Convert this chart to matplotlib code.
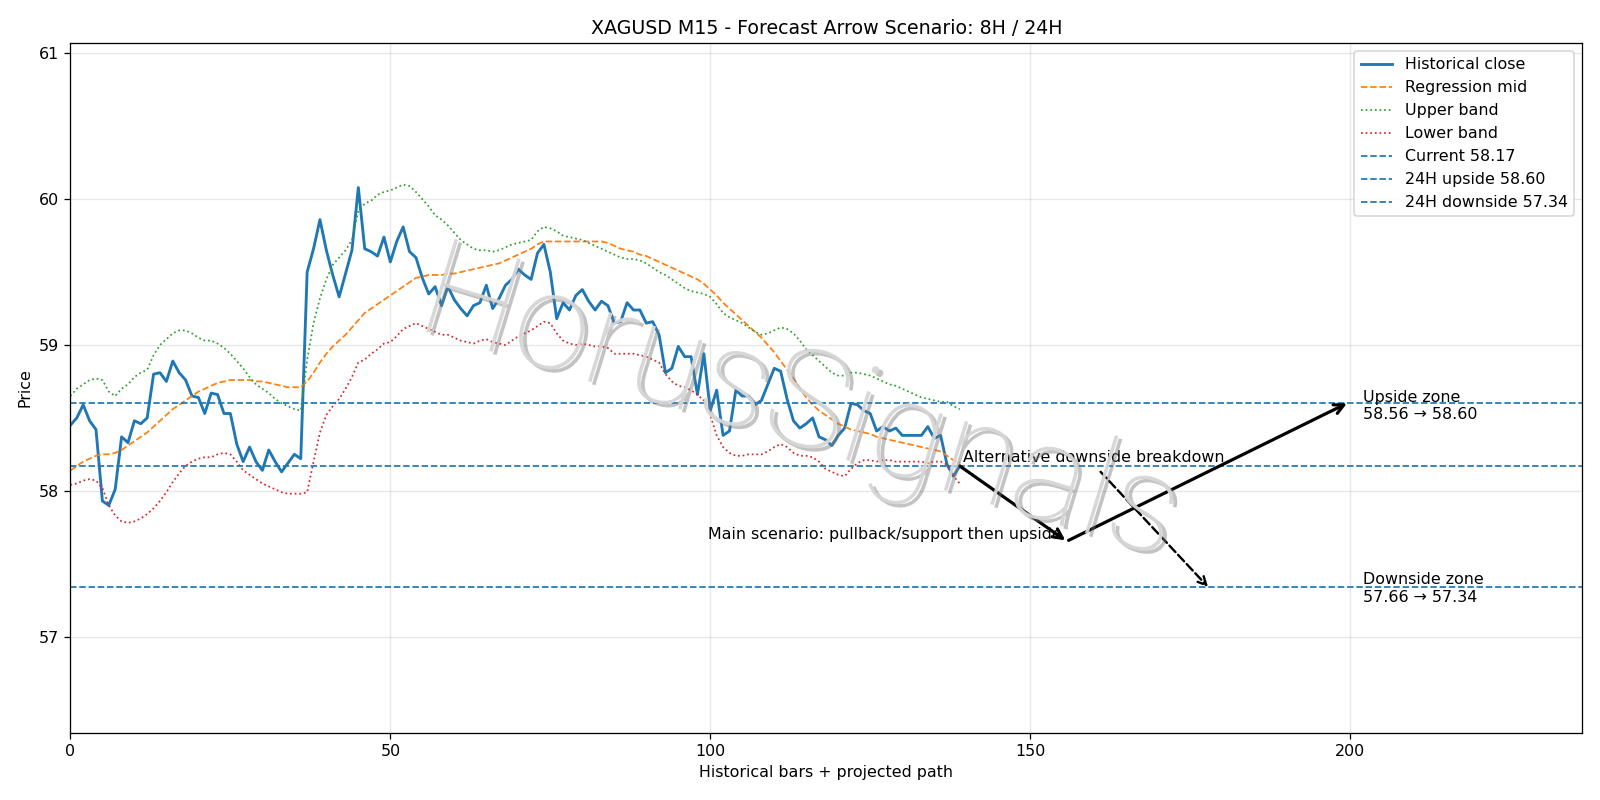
import numpy as np
import matplotlib
matplotlib.use("Agg")
import matplotlib.pyplot as plt
import matplotlib.patheffects as pe

title = "XAGUSD M15 - Forecast Arrow Scenario: 8H / 24H"

close = [58.45, 58.50, 58.59, 58.48, 58.42, 57.93, 57.90, 58.01, 58.37, 58.33,
         58.48, 58.46, 58.50, 58.80, 58.81, 58.75, 58.89, 58.81, 58.76, 58.65,
         58.64, 58.53, 58.67, 58.66, 58.53, 58.53, 58.32, 58.20, 58.30, 58.20,
         58.14, 58.28, 58.20, 58.13, 58.19, 58.25, 58.22, 59.50, 59.66, 59.86,
         59.65, 59.48, 59.33, 59.49, 59.65, 60.08, 59.66, 59.64, 59.61, 59.74,
         59.57, 59.71, 59.81, 59.64, 59.60, 59.46, 59.35, 59.40, 59.27, 59.40,
         59.31, 59.25, 59.20, 59.27, 59.29, 59.41, 59.25, 59.32, 59.41, 59.45,
         59.52, 59.48, 59.45, 59.63, 59.69, 59.50, 59.18, 59.29, 59.24, 59.34,
         59.38, 59.30, 59.24, 59.30, 59.27, 59.15, 59.16, 59.29, 59.24, 59.24,
         59.15, 59.16, 59.07, 58.81, 58.84, 58.99, 58.92, 58.92, 58.66, 58.94,
         58.55, 58.69, 58.38, 58.41, 58.69, 58.65, 58.65, 58.59, 58.62, 58.73,
         58.84, 58.82, 58.63, 58.48, 58.43, 58.46, 58.50, 58.37, 58.35, 58.31,
         58.38, 58.43, 58.60, 58.59, 58.55, 58.53, 58.41, 58.44, 58.41, 58.43,
         58.38, 58.38, 58.38, 58.38, 58.44, 58.36, 58.38, 58.18, 58.10, 58.17]

mid = [58.14, 58.17, 58.20, 58.22, 58.24, 58.25, 58.25, 58.26, 58.28, 58.31,
       58.34, 58.37, 58.40, 58.44, 58.48, 58.52, 58.56, 58.59, 58.62, 58.65,
       58.68, 58.70, 58.72, 58.74, 58.75, 58.76, 58.76, 58.76, 58.76, 58.75,
       58.75, 58.74, 58.73, 58.72, 58.71, 58.71, 58.71, 58.75, 58.81, 58.88,
       58.94, 58.99, 59.03, 59.07, 59.12, 59.17, 59.22, 59.25, 59.28, 59.31,
       59.34, 59.37, 59.40, 59.43, 59.46, 59.47, 59.48, 59.48, 59.48, 59.49,
       59.49, 59.50, 59.51, 59.52, 59.53, 59.54, 59.55, 59.56, 59.58, 59.60,
       59.62, 59.64, 59.66, 59.69, 59.71, 59.71, 59.71, 59.71, 59.71, 59.71,
       59.71, 59.71, 59.71, 59.71, 59.70, 59.68, 59.66, 59.65, 59.64, 59.62,
       59.61, 59.59, 59.57, 59.55, 59.53, 59.51, 59.49, 59.47, 59.45, 59.42,
       59.38, 59.34, 59.29, 59.25, 59.21, 59.17, 59.13, 59.09, 59.05, 59.00,
       58.95, 58.89, 58.83, 58.77, 58.70, 58.64, 58.59, 58.55, 58.52, 58.49,
       58.46, 58.44, 58.42, 58.41, 58.40, 58.39, 58.37, 58.36, 58.35, 58.34,
       58.33, 58.32, 58.31, 58.30, 58.29, 58.28, 58.27, 58.24, 58.21, 58.19]

upper = [58.65, 58.70, 58.73, 58.76, 58.77, 58.76, 58.68, 58.65, 58.70, 58.73,
         58.78, 58.81, 58.83, 58.93, 59.00, 59.04, 59.08, 59.10, 59.10, 59.08,
         59.05, 59.03, 59.03, 59.01, 58.98, 58.94, 58.89, 58.84, 58.78, 58.73,
         58.70, 58.67, 58.63, 58.60, 58.58, 58.56, 58.55, 58.90, 59.15, 59.32,
         59.45, 59.55, 59.60, 59.65, 59.72, 59.92, 59.97, 59.99, 60.03, 60.05,
         60.06, 60.08, 60.10, 60.09, 60.05, 60.00, 59.95, 59.89, 59.86, 59.82,
         59.77, 59.72, 59.69, 59.66, 59.65, 59.65, 59.64, 59.65, 59.67, 59.69,
         59.70, 59.71, 59.72, 59.78, 59.81, 59.80, 59.78, 59.75, 59.74, 59.73,
         59.72, 59.70, 59.68, 59.66, 59.64, 59.62, 59.60, 59.59, 59.59, 59.58,
         59.56, 59.53, 59.50, 59.48, 59.45, 59.42, 59.39, 59.37, 59.36, 59.35,
         59.33, 59.28, 59.22, 59.19, 59.17, 59.15, 59.12, 59.09, 59.07, 59.08,
         59.10, 59.12, 59.11, 59.08, 59.03, 58.97, 58.93, 58.89, 58.85, 58.81,
         58.79, 58.79, 58.81, 58.81, 58.80, 58.79, 58.77, 58.75, 58.73, 58.72,
         58.70, 58.68, 58.66, 58.64, 58.63, 58.62, 58.61, 58.61, 58.58, 58.56]

lower = [58.04, 58.05, 58.07, 58.08, 58.07, 58.02, 57.90, 57.83, 57.79, 57.78,
         57.79, 57.81, 57.84, 57.88, 57.93, 57.99, 58.06, 58.12, 58.17, 58.20,
         58.22, 58.23, 58.23, 58.25, 58.26, 58.25, 58.20, 58.14, 58.11, 58.08,
         58.05, 58.03, 58.01, 57.99, 57.98, 57.98, 57.98, 57.99, 58.20, 58.40,
         58.52, 58.58, 58.63, 58.70, 58.78, 58.88, 58.90, 58.94, 58.97, 59.01,
         59.02, 59.06, 59.11, 59.13, 59.15, 59.13, 59.11, 59.09, 59.07, 59.07,
         59.05, 59.03, 59.02, 59.01, 59.03, 59.04, 59.02, 59.01, 59.00, 59.03,
         59.06, 59.08, 59.10, 59.13, 59.16, 59.15, 59.08, 59.03, 59.01, 59.00,
         59.01, 59.00, 58.99, 58.99, 58.98, 58.94, 58.94, 58.94, 58.94, 58.93,
         58.92, 58.90, 58.88, 58.80, 58.75, 58.72, 58.71, 58.69, 58.66, 58.62,
         58.52, 58.38, 58.30, 58.26, 58.24, 58.24, 58.25, 58.25, 58.25, 58.27,
         58.30, 58.32, 58.30, 58.26, 58.24, 58.24, 58.23, 58.20, 58.15, 58.13,
         58.11, 58.10, 58.15, 58.19, 58.21, 58.21, 58.20, 58.21, 58.21, 58.20,
         58.20, 58.20, 58.20, 58.20, 58.19, 58.20, 58.20, 58.18, 58.10, 58.05]

current = 58.17
up_target = 58.60
down_target = 57.34
up_zone = (58.56, 58.60)
down_zone = (57.66, 57.34)

# projected path (bar index, price)
main_path_x = [139, 155.5, 199.5]
main_path_y = [58.17, 57.66, 58.60]
alt_path_x = [161, 177.8]
alt_path_y = [58.13, 57.34]

DPI = 1600 / 14
fig = plt.figure(figsize=(14, 7), dpi=DPI)
ax = fig.add_axes([0.044, 0.084, 0.945, 0.862])

x = np.arange(len(close))
ax.plot(x, close, color="#1f77b4", lw=1.8, label="Historical close")
ax.plot(x, mid, color="#ff7f0e", lw=1.1, ls="--", label="Regression mid")
ax.plot(x, upper, color="#2ca02c", lw=1.1, ls=":", label="Upper band")
ax.plot(x, lower, color="#d62728", lw=1.1, ls=":", label="Lower band")
ax.axhline(current, color="#1f77b4", lw=1.1, ls="--", label=f"Current {current:.2f}")
ax.axhline(up_target, color="#1f77b4", lw=1.1, ls="--", label=f"24H upside {up_target:.2f}")
ax.axhline(down_target, color="#1f77b4", lw=1.1, ls="--", label=f"24H downside {down_target:.2f}")

ap = dict(arrowstyle="->", lw=2.0, color="black", mutation_scale=15,
          shrinkA=0, shrinkB=0)
ax.annotate("", xy=(main_path_x[1], main_path_y[1]),
            xytext=(main_path_x[0], main_path_y[0]), arrowprops=ap)
ax.annotate("", xy=(main_path_x[2], main_path_y[2]),
            xytext=(main_path_x[1] + 0.5, main_path_y[1]), arrowprops=ap)
ax.annotate("", xy=(alt_path_x[1], alt_path_y[1]),
            xytext=(alt_path_x[0], alt_path_y[0]),
            arrowprops=dict(arrowstyle="->", lw=1.5, color="black", ls="--",
                            mutation_scale=13, shrinkA=0, shrinkB=0))

ax.text(main_path_x[1] - 0.5, main_path_y[1] + 0.04,
        "Main scenario: pullback/support then upside", ha="right", va="center",
        fontsize=10)
ax.text(139.5, current + 0.005, "Alternative downside breakdown", ha="left",
        va="bottom", fontsize=10)
ax.text(202, up_target - 0.02,
        f"Upside zone\n{up_zone[0]:.2f} \u2192 {up_zone[1]:.2f}",
        ha="left", va="center", fontsize=10)
ax.text(202, down_target - 0.01,
        f"Downside zone\n{down_zone[0]:.2f} \u2192 {down_zone[1]:.2f}",
        ha="left", va="center", fontsize=10)

fig.text(0.5, 0.49, "HorusSignals", fontsize=86, color="#d6d6d6",
         family=["Roboto", "DejaVu Sans"], fontweight="light",
         ha="center", va="center", rotation=-17,
         alpha=0.95, zorder=10,
         path_effects=[pe.withSimplePatchShadow(offset=(2.5, -2),
                                                shadow_rgbFace="#7a7a7a",
                                                alpha=0.45)])

ax.set_xlim(0, 236.3)
ax.set_ylim(56.34, 61.07)
ax.set_xticks([0, 50, 100, 150, 200])
ax.set_yticks([57, 58, 59, 60, 61])
ax.grid(True, alpha=0.3)
ax.set_title(title, fontsize=12)
ax.set_xlabel("Historical bars + projected path")
ax.set_ylabel("Price")
ax.legend(loc="upper right")

fig.savefig("out.png", dpi=DPI)
